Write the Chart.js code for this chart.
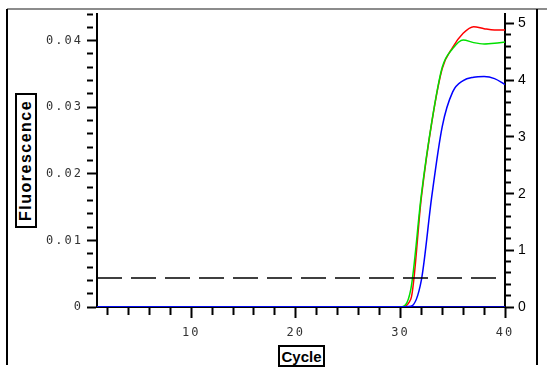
<!DOCTYPE html>
<html>
<head>
<meta charset="utf-8">
<script src="https://cdn.jsdelivr.net/npm/chart.js@4"></script>
<style>
  html, body { margin: 0; padding: 0; background: #fff; }
  #wrap { position: relative; width: 547px; height: 373px; overflow: hidden; }
  #pcrChart { position: absolute; left: 0; top: 0; }
  .frame { position: absolute; }
  .axis-title {
    position: absolute; box-sizing: border-box; border: 2px solid #000;
    font-family: "Liberation Sans", Arial, sans-serif; font-weight: bold; color: #000;
    display: flex; align-items: center; justify-content: center; background: #fff;
  }
  #yTitle {
    left: 15px; top: 93px; width: 22px; height: 135px;
    font-size: 16px; letter-spacing: 1.5px;
    writing-mode: vertical-rl; transform: rotate(180deg);
  }
  #xTitle { left: 278px; top: 345px; width: 47px; height: 22px; font-size: 15px; }
</style>
</head>
<body>
<div id="wrap">
  <canvas id="pcrChart" width="547" height="373"></canvas>
  <div class="frame" style="left:7px;top:8px;width:540px;height:2px;background:#8c8c8c"></div>
  <div class="frame" style="left:6px;top:9px;width:2px;height:356px;background:#000"></div>
  <div class="frame" style="left:536px;top:9px;width:2px;height:356px;background:#000"></div>
  <div class="axis-title" id="yTitle">Fluorescence</div>
  <div class="axis-title" id="xTitle">Cycle</div>
</div>
<script>
// amplification curves, one value per cycle
const cycles = [1, 2, 3, 4, 5, 6, 7, 8, 9, 10, 11, 12, 13, 14, 15, 16, 17, 18, 19, 20,
  21, 22, 23, 24, 25, 26, 27, 28, 29, 30, 31, 32, 33, 34, 35, 36, 37, 38, 39, 40];

const redValues = [0, 0, 0, 0, 0, 0, 0, 0, 0, 0, 0, 0, 0, 0, 0, 0, 0, 0, 0, 0,
  0, 0, 0, 0, 0, 0, 0, 0, 0, 0,
  0.0012, 0.0164, 0.0277, 0.0358, 0.0390, 0.0411, 0.0421, 0.0418, 0.0416, 0.0416];

const greenValues = [0, 0, 0, 0, 0, 0, 0, 0, 0, 0, 0, 0, 0, 0, 0, 0, 0, 0, 0, 0,
  0, 0, 0, 0, 0, 0, 0, 0, 0, 0,
  0.0027, 0.0168, 0.0278, 0.0360, 0.0388, 0.0401, 0.0397, 0.0395, 0.0396, 0.0398];

const blueValues = [0, 0, 0, 0, 0, 0, 0, 0, 0, 0, 0, 0, 0, 0, 0, 0, 0, 0, 0, 0,
  0, 0, 0, 0, 0, 0, 0, 0, 0, 0,
  0.0001, 0.0040, 0.0166, 0.0271, 0.0323, 0.0340, 0.0345, 0.0346, 0.0343, 0.0334];

// negative control stays flat on the baseline
const ntcValues = [0, 0, 0, 0, 0, 0, 0, 0, 0, 0, 0, 0, 0, 0, 0, 0, 0, 0, 0, 0,
  0, 0, 0, 0, 0, 0, 0, 0, 0, 0, 0, 0, 0, 0, 0, 0, 0, 0, 0, 0];

const threshold = 0.00435;

// ticks
const cycleTicks = [2, 4, 6, 8, 10, 12, 14, 16, 18, 20, 22, 24, 26, 28, 30, 32, 34, 36, 38, 40];
const cycleLabels = [10, 20, 30, 40];
const fluorTicks = [0, 0.002, 0.004, 0.006, 0.008, 0.01, 0.012, 0.014, 0.016, 0.018, 0.02,
  0.022, 0.024, 0.026, 0.028, 0.03, 0.032, 0.034, 0.036, 0.038, 0.04, 0.042, 0.044];
const fluorLabels = ["0", "0.01", "0.02", "0.03", "0.04"];
const rightTicks = [0, 0.2, 0.4, 0.6, 0.8, 1, 1.2, 1.4, 1.6, 1.8, 2, 2.2, 2.4, 2.6, 2.8,
  3, 3.2, 3.4, 3.6, 3.8, 4, 4.2, 4.4, 4.6, 4.8, 5];
const rightLabels = ["0", "1", "2", "3", "4", "5"];

const toPoints = vals => cycles.map((c, i) => ({ x: c, y: vals[i] }));

const fluorLabelFor = v => {
  const k = Math.round(v * 100);
  return Math.abs(v * 100 - k) < 1e-6 ? fluorLabels[k] : "";
};
const rightLabelFor = v => {
  const k = Math.round(v);
  return Math.abs(v - k) < 1e-6 ? rightLabels[k] : "";
};

// spaced-out labels like the original software
const spacing = {
  id: "spacing",
  beforeDraw(chart) { chart.ctx.letterSpacing = "2px"; },
  afterDraw(chart) { chart.ctx.letterSpacing = "0px"; }
};

const curve = (label, vals, color) => ({
  label: label,
  data: toPoints(vals),
  borderColor: color,
  borderWidth: 1.5,
  pointRadius: 0,
  cubicInterpolationMode: "monotone",
  yAxisID: "y"
});

new Chart(document.getElementById("pcrChart").getContext("2d"), {
  type: "line",
  data: {
    datasets: [
      curve("NTC", ntcValues, "#0000ff"),
      {
        label: "Threshold",
        data: [{ x: cycles[0], y: threshold }, { x: cycles[cycles.length - 1], y: threshold }],
        borderColor: "#000",
        borderWidth: 1.5,
        borderDash: [25, 9],
        pointRadius: 0,
        yAxisID: "y"
      },
      curve("Sample 3", blueValues, "#0000ff"),
      curve("Sample 2", greenValues, "#00e000"),
      curve("Sample 1", redValues, "#ff0000")
    ]
  },
  options: {
    responsive: false,
    animation: false,
    devicePixelRatio: 1,
    layout: { padding: { top: 14, left: 0, right: 0, bottom: 0 } },
    plugins: { legend: { display: false }, tooltip: { enabled: false } },
    scales: {
      x: {
        type: "linear",
        position: "bottom",
        min: 1,
        max: 40,
        afterFit: s => { s.height = 66; },
        afterBuildTicks: s => { s.ticks = cycleTicks.map(v => ({ value: v })); },
        border: { color: "#000", width: 2 },
        grid: {
          drawOnChartArea: false,
          tickLength: 11,
          tickWidth: 2,
          tickColor: "#000",
          tickBorderDash: c => (c.tick && cycleLabels.includes(c.tick.value)) ? [] : [7, 30]
        },
        ticks: {
          autoSkip: false,
          maxRotation: 0,
          padding: 8,
          color: "#333",
          font: { family: "DejaVu Sans Mono", size: 12 },
          callback: v => cycleLabels.includes(v) ? String(v) : ""
        }
      },
      y: {
        position: "left",
        min: 0,
        max: 0.044,
        afterFit: s => { s.width = 97; },
        afterBuildTicks: s => { s.ticks = fluorTicks.map(v => ({ value: v })); },
        border: { color: "#000", width: 2 },
        grid: {
          drawOnChartArea: false,
          tickLength: 10,
          tickWidth: 2,
          tickColor: "#000",
          tickBorderDash: c => (c.tick && fluorLabelFor(c.tick.value) !== "") ? [] : [6, 30]
        },
        ticks: {
          autoSkip: false,
          padding: 4,
          color: "#333",
          font: { family: "DejaVu Sans Mono", size: 12 },
          callback: v => fluorLabelFor(v)
        }
      },
      y2: {
        position: "right",
        min: 0,
        max: 5.17,
        afterFit: s => { s.width = 42; },
        afterBuildTicks: s => { s.ticks = rightTicks.map(v => ({ value: v })); },
        border: { color: "#000", width: 2 },
        grid: {
          drawOnChartArea: false,
          tickLength: 9,
          tickWidth: 2,
          tickColor: "#000",
          tickBorderDash: c => (c.tick && rightLabelFor(c.tick.value) !== "") ? [] : [5, 30]
        },
        ticks: {
          autoSkip: false,
          padding: 4,
          color: "#000",
          font: { family: "Liberation Sans", size: 14 },
          callback: v => rightLabelFor(v)
        }
      }
    }
  },
  plugins: [spacing]
});
</script>
</body>
</html>
